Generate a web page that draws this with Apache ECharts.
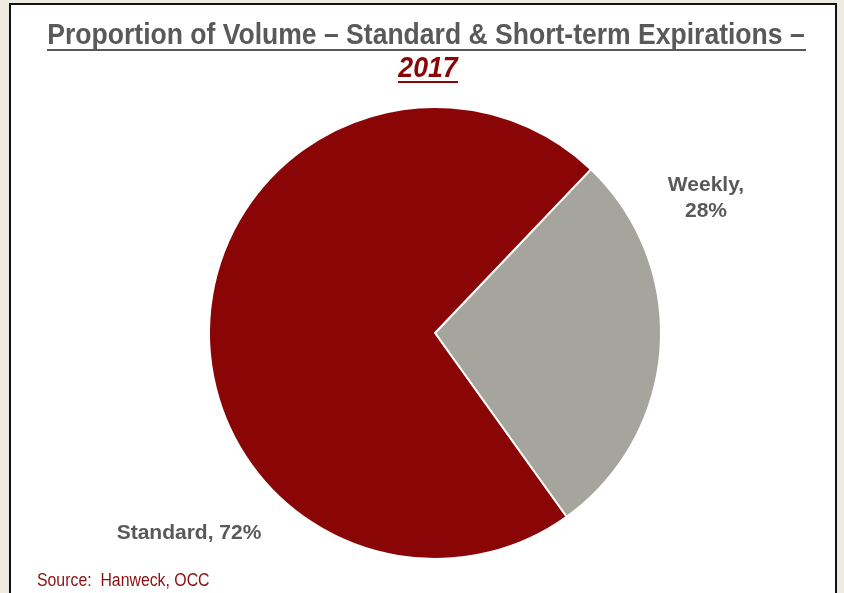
<!DOCTYPE html>
<html>
<head>
<meta charset="utf-8">
<script src="https://cdn.jsdelivr.net/npm/echarts@6/dist/echarts.min.js"></script>
<style>
  html, body { margin: 0; padding: 0; background: #eeebe0; }
  #chart { width: 844px; height: 593px; }
</style>
</head>
<body>
<div id="chart"></div>
<script>
// data
const categories = ['Weekly', 'Standard']
const shares = [28, 72]
const sliceColors = ['#a6a59d', '#8a0505']

const titleText = 'Proportion of Volume \u2013 Standard & Short-term Expirations \u2013'
const yearText = '2017'
const sourceText = 'Source:  Hanweck, OCC'

const chart = echarts.init(document.getElementById('chart'))

const option = {
  backgroundColor: '#eeebe0',
  animation: false,
  graphic: [
    // white panel with black frame
    {
      type: 'rect',
      shape: { x: 10, y: 4, width: 826, height: 600 },
      style: { fill: '#ffffff', stroke: '#111', lineWidth: 2 },
      z: -10
    },
    // narrow font is not installed, so squeeze the regular one
    {
      type: 'text',
      x: 426, y: 36,
      scaleX: 0.915,
      style: {
        text: titleText,
        fill: '#595959',
        font: 'bold 29px "Liberation Sans", Arial, sans-serif',
        align: 'center', verticalAlign: 'middle'
      }
    },
    {
      type: 'line',
      shape: { x1: 47, y1: 50, x2: 806, y2: 50 },
      style: { stroke: '#595959', lineWidth: 2 }
    },
    {
      type: 'text',
      x: 428, y: 69,
      scaleX: 0.92,
      style: {
        text: yearText,
        fill: '#8a0505',
        font: 'italic bold 29px "Liberation Sans", Arial, sans-serif',
        align: 'center', verticalAlign: 'middle'
      }
    },
    {
      type: 'line',
      shape: { x1: 398, y1: 82, x2: 458, y2: 82 },
      style: { stroke: '#8a0505', lineWidth: 2 }
    },
    {
      type: 'text',
      x: 37, y: 581,
      scaleX: 0.88,
      style: {
        text: sourceText,
        fill: '#8a1010',
        font: '18px "Liberation Sans", Arial, sans-serif',
        align: 'left', verticalAlign: 'middle'
      }
    }
  ],
  series: [
    {
      type: 'pie',
      center: [435, 333],
      radius: 226,
      startAngle: 46.4,
      clockwise: true,
      data: categories.map((name, i) => ({
        name: name,
        value: shares[i],
        itemStyle: { color: sliceColors[i] }
      })),
      itemStyle: { borderColor: '#ffffff', borderWidth: 2 },
      labelLine: { show: false },
      label: {
        show: true,
        position: 'outside',
        color: '#595959',
        fontWeight: 'bold',
        fontFamily: '"Liberation Sans", Arial, sans-serif',
        overflow: 'none',
        formatter: p => p.dataIndex === 0 ? p.name + ',\n' + p.value + '%' : p.name + ', ' + p.value + '%'
      },
      labelLayout: function (params) {
        if (params.dataIndex === 0) {
          return { x: 706, y: 198, align: 'center', verticalAlign: 'middle' }
        }
        return { x: 189, y: 533, align: 'center', verticalAlign: 'middle' }
      },
      emphasis: { disabled: true }
    }
  ]
}

// per-slice label sizes
option.series[0].data[0].label = { fontSize: 21, lineHeight: 26 }
option.series[0].data[1].label = { fontSize: 21, width: 200 }

chart.setOption(option)
</script>
</body>
</html>
